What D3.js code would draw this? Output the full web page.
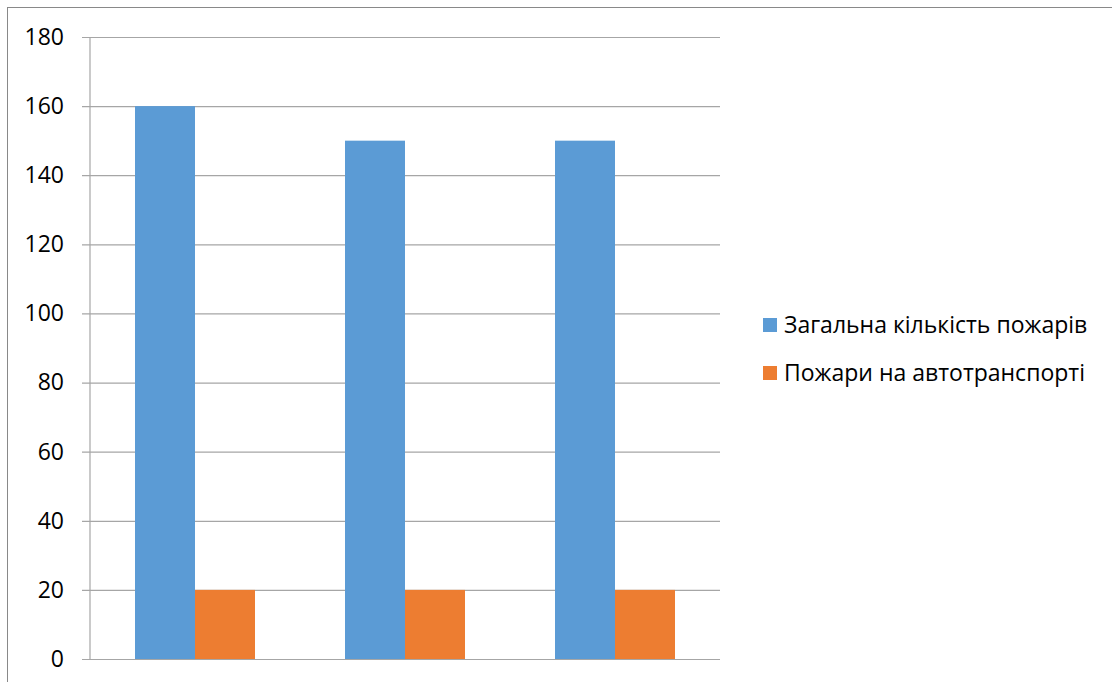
<!DOCTYPE html>
<html>
<head>
<meta charset="utf-8">
<script src="https://cdn.jsdelivr.net/npm/d3@7"></script>
<style>
  html, body { margin: 0; padding: 0; background: #fff; }
  svg { display: block; }
  text { font-family: "Open Sans", "Noto Sans", sans-serif; fill: #000; }
</style>
</head>
<body>
<svg id="chart" width="1112" height="682"></svg>
<script>
// Chart data
const categories = ["1", "2", "3"];
const seriesNames = ["Загальна кількість пожарів", "Пожари на автотранспорті"];
const totalFires = [160, 150, 150];
const vehicleFires = [20, 20, 20];
const yTicks = [0, 20, 40, 60, 80, 100, 120, 140, 160, 180];
const seriesColors = ["#5b9bd5", "#ed7d31"];

const series = [totalFires, vehicleFires];

const svg = d3.select("#chart");

// Outer chart frame
svg.append("rect")
  .attr("x", 7.5).attr("y", 7.5)
  .attr("width", 1200).attr("height", 800)
  .attr("fill", "#fff")
  .attr("stroke", "#898989").attr("stroke-width", 1);

const plot = { left: 90, right: 720, top: 37, bottom: 659 };

const x = d3.scaleBand()
  .domain(categories)
  .range([plot.left, plot.right])
  .paddingInner(3 / 7)
  .paddingOuter(3 / 14);

const xs = d3.scaleBand()
  .domain(d3.range(series.length))
  .range([0, x.bandwidth()]);

const y = d3.scaleLinear()
  .domain([0, 180])
  .range([plot.bottom, plot.top]);

// Horizontal gridlines with tick stubs to the left of the axis
const yAxis = d3.axisLeft(y)
  .tickValues(yTicks)
  .tickSize(plot.right - plot.left + 8)
  .tickPadding(18)
  .tickFormat(d3.format("d"));

const gy = svg.append("g")
  .attr("transform", `translate(${plot.right},0)`)
  .call(yAxis);
gy.select(".domain").remove();
gy.selectAll(".tick line")
  .attr("stroke", "#a6a6a6")
  .attr("stroke-width", 1.2);
gy.selectAll(".tick text")
  .attr("x", -(plot.right - plot.left) - 26)
  .style("font-size", "23px")
  .style("font-family", "'Open Sans', sans-serif")
  .attr("fill", "#000");

// Vertical axis line
svg.append("line")
  .attr("x1", plot.left).attr("x2", plot.left)
  .attr("y1", plot.top).attr("y2", plot.bottom)
  .attr("stroke", "#a6a6a6").attr("stroke-width", 1.2);

// Bars
const groups = svg.append("g").selectAll("g")
  .data(categories)
  .join("g")
  .attr("transform", d => `translate(${x(d)},0)`);

groups.selectAll("rect")
  .data((d, i) => series.map((s, j) => ({ j, v: s[i] })))
  .join("rect")
  .attr("x", d => xs(d.j))
  .attr("width", xs.bandwidth())
  .attr("y", d => y(d.v))
  .attr("height", d => y(0) - y(d.v))
  .attr("fill", d => seriesColors[d.j]);

// Legend
const legend = svg.append("g").attr("transform", "translate(763,318)");
const items = legend.selectAll("g")
  .data(seriesNames)
  .join("g")
  .attr("transform", (d, i) => `translate(0,${i * 48})`);
items.append("rect")
  .attr("width", 14).attr("height", 14)
  .attr("fill", (d, i) => seriesColors[i]);
items.append("text")
  .attr("x", 21).attr("y", 14.5)
  .style("font-size", "23px")
  .text(d => d);
</script>
</body>
</html>
